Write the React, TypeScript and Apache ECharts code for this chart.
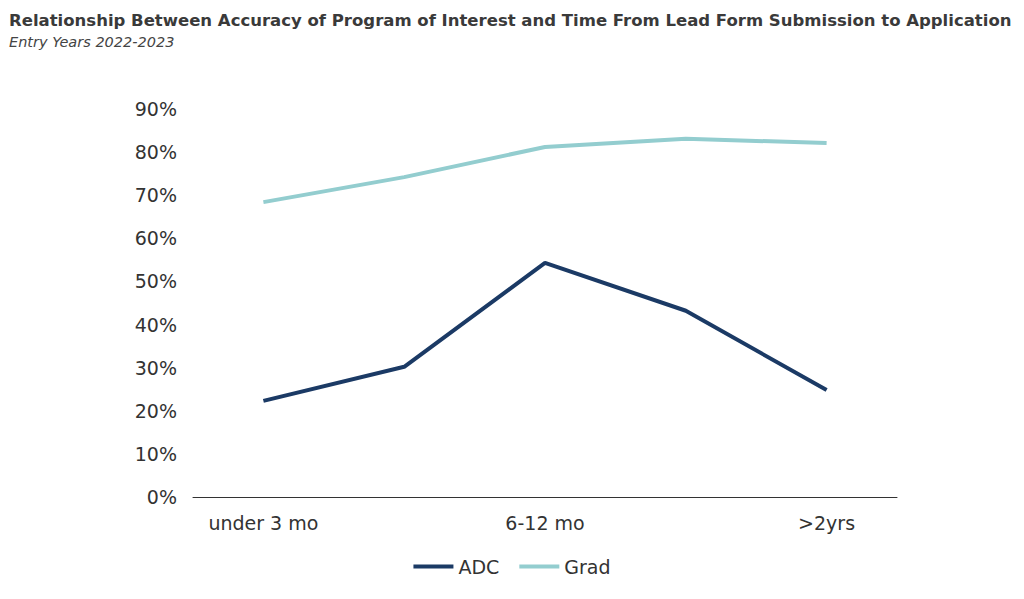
import React, { useEffect, useRef } from "react";
import * as echarts from "echarts";

const categories = ["under 3 mo", "3-6 mo", "6-12 mo", "1-2 yr", ">2yrs"];
const adc = [22.3, 30.2, 54.3, 43.2, 24.8];
const grad = [68.4, 74.2, 81.2, 83.1, 82.1];

export default function App() {
  const ref = useRef<HTMLDivElement>(null);
  useEffect(() => {
    const chart = echarts.init(ref.current!, null, { renderer: "svg" });
    const font = "DejaVu Sans, Verdana, sans-serif";
    chart.setOption({
      animation: false,
      textStyle: { fontFamily: font },
      title: {
        text: "Relationship Between Accuracy of Program of Interest and Time From Lead Form Submission to Application",
        subtext: "Entry Years 2022-2023",
        left: 4,
        top: 7,
        itemGap: 5,
        textStyle: { fontSize: 16.5, fontWeight: "bold", color: "#3a3a3a", fontFamily: font },
        subtextStyle: { fontSize: 14.5, fontStyle: "italic", color: "#444", fontFamily: font },
      },
      legend: {
        bottom: 18,
        left: "center",
        itemWidth: 40,
        itemHeight: 4,
        icon: "rect",
        itemGap: 20,
        textStyle: { fontSize: 19, color: "#333", fontFamily: font },
        data: ["ADC", "Grad"],
      },
      grid: { left: 193, right: 127, top: 109, bottom: 102 },
      xAxis: {
        type: "category",
        data: categories,
        boundaryGap: true,
        axisLine: { lineStyle: { color: "#333", width: 1 } },
        axisTick: { show: false },
        axisLabel: { fontSize: 19, color: "#333", margin: 16 },
      },
      yAxis: {
        type: "value",
        min: 0,
        max: 90,
        interval: 10,
        splitLine: { show: false },
        axisLine: { show: false },
        axisTick: { show: false },
        axisLabel: { fontSize: 19, color: "#333", formatter: "{value}%", margin: 16 },
      },
      series: [
        { name: "ADC", type: "line", data: adc, symbol: "none", lineStyle: { width: 4, color: "#1b3a65" }, itemStyle: { color: "#1b3a65" } },
        { name: "Grad", type: "line", data: grad, symbol: "none", lineStyle: { width: 4, color: "#93cdcf" }, itemStyle: { color: "#93cdcf" } },
      ],
    });
    return () => chart.dispose();
  }, []);
  return <div ref={ref} style={{ width: 1024, height: 599, position: "absolute", left: 0, top: 0, background: "#fff" }} />;
}
